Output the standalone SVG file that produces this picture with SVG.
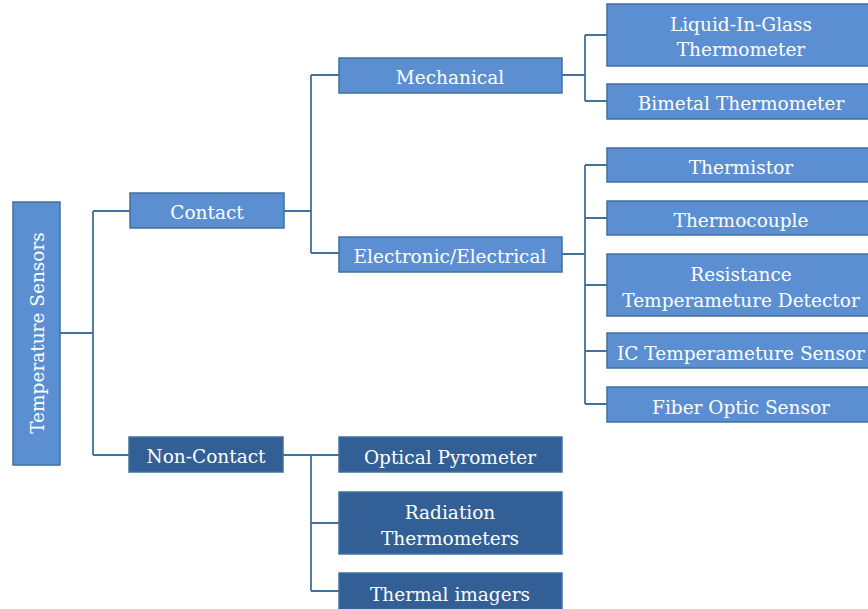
<svg xmlns="http://www.w3.org/2000/svg" width="868" height="609" viewBox="0 0 868 609">
<style>
.l{fill:#5B8FD2;stroke:#41719C;stroke-width:1.5}
.d{fill:#325F95;stroke:#41719C;stroke-width:1.5}
text{font-family:"DejaVu Serif","Liberation Serif",serif;font-size:18.5px;fill:#FFFFFF;text-anchor:middle}
.c{fill:none;stroke:#41719C;stroke-width:1.8}
</style>
<rect width="868" height="609" fill="#FFFFFF"/>
<g id="connectors">
<path class="c" d="M60,333H93M93,211V455M93,211H130M93,455H129"/>
<path class="c" d="M284,211H311M311,75V253M311,75H339M311,253H339"/>
<path class="c" d="M562,75H585M585,35V101M585,35H607M585,101H607"/>
<path class="c" d="M562,254H585M585,165V404M585,165H607M585,218H607M585,285H607M585,351H607M585,404H607"/>
<path class="c" d="M283,455H339M311,455V591M311,523H339M311,591H339"/>
</g>
<g id="root"><rect class="l" x="13" y="202" width="47" height="263"/><text transform="translate(44,333) rotate(-90)">Temperature Sensors</text></g>
<g id="contact"><rect class="l" x="130" y="193" width="154" height="35"/><text x="207" y="219">Contact</text></g>
<g id="noncontact"><rect class="d" x="129" y="437" width="154" height="35"/><text x="206" y="463">Non-Contact</text></g>
<g id="mechanical"><rect class="l" x="339" y="58" width="223" height="35"/><text x="450" y="84">Mechanical</text></g>
<g id="electronic"><rect class="l" x="339" y="237" width="223" height="35"/><text x="450" y="263">Electronic/Electrical</text></g>
<g id="lig"><rect class="l" x="607" y="4" width="262" height="62"/><text x="741" y="31">Liquid-In-Glass</text><text x="741" y="56">Thermometer</text></g>
<g id="bimetal"><rect class="l" x="607" y="84" width="262" height="35"/><text x="741" y="110">Bimetal Thermometer</text></g>
<g id="thermistor"><rect class="l" x="607" y="148" width="262" height="34"/><text x="741" y="174">Thermistor</text></g>
<g id="thermocouple"><rect class="l" x="607" y="201" width="262" height="34"/><text x="741" y="227">Thermocouple</text></g>
<g id="rtd"><rect class="l" x="607" y="254" width="262" height="62"/><text x="741" y="281">Resistance</text><text x="741" y="307">Temperameture Detector</text></g>
<g id="ic"><rect class="l" x="607" y="333" width="262" height="35"/><text x="741" y="360">IC Temperameture Sensor</text></g>
<g id="fiber"><rect class="l" x="607" y="387" width="262" height="35"/><text x="741" y="414">Fiber Optic Sensor</text></g>
<g id="optical"><rect class="d" x="339" y="437" width="223" height="35"/><text x="450" y="464">Optical Pyrometer</text></g>
<g id="radiation"><rect class="d" x="339" y="492" width="223" height="62"/><text x="450" y="519">Radiation</text><text x="450" y="545">Thermometers</text></g>
<g id="thermal"><rect class="d" x="339" y="573" width="223" height="37"/><text x="450" y="601">Thermal imagers</text></g>
</svg>
